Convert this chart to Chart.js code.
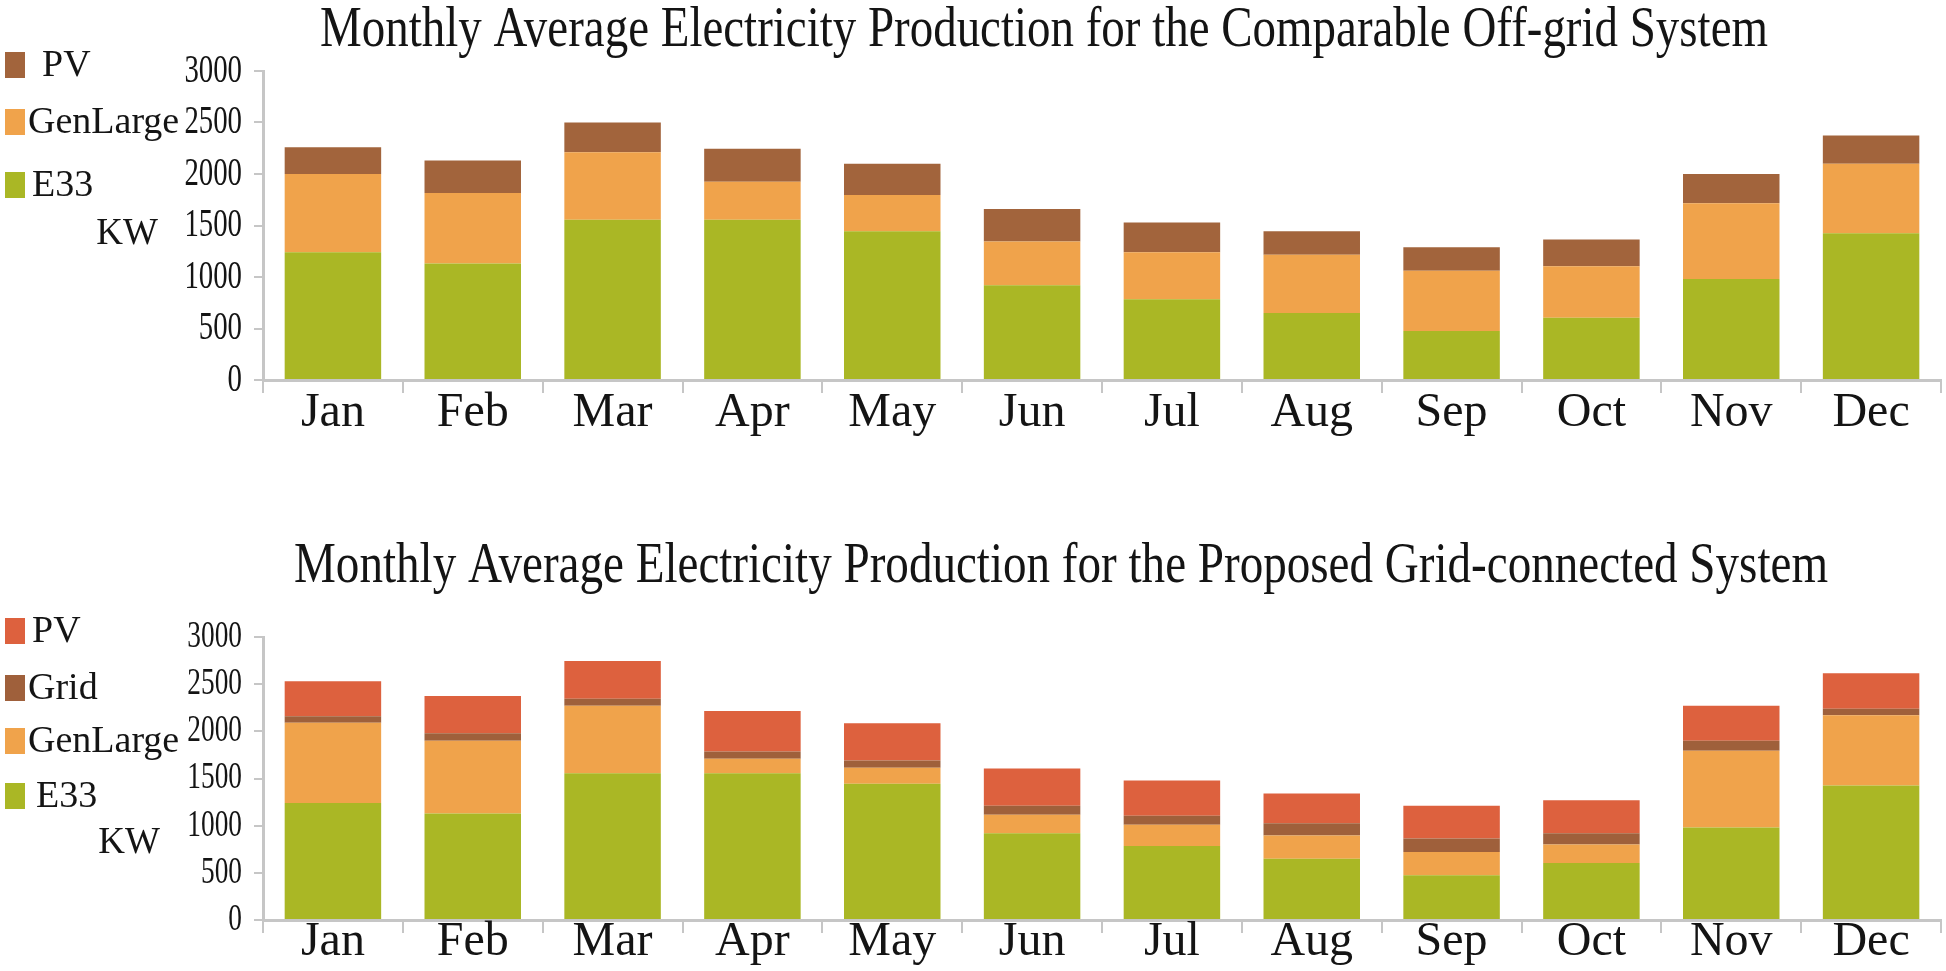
<!DOCTYPE html>
<html>
<head>
<meta charset="utf-8">
<script src="https://cdn.jsdelivr.net/npm/chart.js@4.4.1/dist/chart.umd.min.js"></script>
<style>
  html, body { margin: 0; padding: 0; background: #ffffff; }
  body { width: 1946px; height: 971px; position: relative; overflow: hidden; }
  canvas { position: absolute; left: 0; }
  #c1 { top: 0; width: 1946px; height: 480px; }
  #c2 { top: 480px; width: 1946px; height: 491px; }
</style>
</head>
<body>
<canvas id="c1" width="1946" height="480"></canvas>
<canvas id="c2" width="1946" height="491"></canvas>
<script>
// ---------- data ----------
const months = ['Jan','Feb','Mar','Apr','May','Jun','Jul','Aug','Sep','Oct','Nov','Dec'];
const yTicks = [0, 500, 1000, 1500, 2000, 2500, 3000];

// Comparable off-grid system
const offE33      = [1240, 1130, 1555, 1555, 1445, 920, 785, 650, 475, 605, 980, 1425];
const offGenLarge = [760, 685, 655, 370, 350, 425, 455, 565, 585, 500, 735, 675];
const offPV       = [260, 315, 290, 320, 305, 315, 290, 230, 230, 260, 285, 275];

// Proposed grid-connected system
const gridE33      = [1240, 1130, 1555, 1555, 1445, 920, 785, 650, 475, 605, 980, 1425];
const gridGenLarge = [850, 770, 715, 155, 170, 195, 225, 245, 245, 195, 815, 745];
const gridGrid     = [70, 80, 75, 75, 75, 95, 95, 130, 145, 120, 105, 70];
const gridPV       = [370, 395, 400, 430, 395, 395, 375, 315, 345, 350, 370, 375];

const title1 = 'Monthly Average Electricity Production for the Comparable Off-grid System';
const title2 = 'Monthly Average Electricity Production for the Proposed Grid-connected System';
const yLabel = 'KW';

// ---------- styles ----------
const C_E33 = '#aab725';
const C_GEN = '#f0a34b';
const C_PVBROWN = '#a2643c';
const C_PVRED = '#dd613e';
const C_GRID = '#9f603b';
const AXIS = '#c6c6c6';
const INK = '#141414';
const SERIF = '"Liberation Serif", "Times New Roman", serif';

const decorPlugin = {
  id: 'decor',
  afterDraw(chart, args, opts) {
    const ctx = chart.ctx;
    ctx.save();
    // title (condensed serif)
    ctx.fillStyle = INK;
    ctx.font = opts.titleSize + 'px ' + SERIF;
    ctx.textAlign = 'center';
    ctx.textBaseline = 'alphabetic';
    const w = ctx.measureText(opts.title).width;
    const sx = opts.titleWidth / w;
    ctx.translate(opts.titleX, opts.titleY);
    ctx.scale(sx, 1);
    ctx.fillText(opts.title, 0, 0);
    ctx.restore();

    ctx.save();
    // y label
    ctx.fillStyle = INK;
    ctx.font = opts.labelSize + 'px ' + SERIF;
    ctx.textAlign = 'right';
    ctx.textBaseline = 'middle';
    ctx.fillText(opts.yLabel, opts.yLabelX, opts.yLabelY);

    // legend (top to bottom = reverse of stacking order)
    const ds = chart.data.datasets.slice().reverse();
    ctx.font = opts.legendSize + 'px ' + SERIF;
    ctx.textAlign = 'left';
    ds.forEach((d, i) => {
      const cy = opts.legendY[i];
      ctx.fillStyle = d.backgroundColor;
      ctx.fillRect(opts.swatchX, cy - opts.swatchH / 2, opts.swatchW, opts.swatchH);
      ctx.fillStyle = INK;
      ctx.fillText(d.label, opts.legendTextX[i], cy + 1);
    });
    ctx.restore();
  }
};

// draw y tick labels horizontally condensed (narrow serif digits as in the original)
function condenseYLabels(s) {
  if (s._condensed) return;
  s._condensed = true;
  const orig = s.drawLabels;
  s.drawLabels = function (area) {
    const ctx = this.ctx;
    const xr = this.right - 9 - 12;
    ctx.save();
    ctx.translate(xr, 0);
    ctx.scale(0.72, 1);
    ctx.translate(-xr, 0);
    orig.call(this, area);
    ctx.restore();
  };
}

function makeChart(id, datasets, cfg) {
  return new Chart(document.getElementById(id), {
    type: 'bar',
    data: { labels: months, datasets: datasets },
    plugins: [decorPlugin],
    options: {
      responsive: false,
      devicePixelRatio: 1,
      animation: false,
      layout: { padding: { left: 0, right: 5, top: cfg.top, bottom: 0 } },
      datasets: { bar: { categoryPercentage: 1.0, barPercentage: 0.69, borderWidth: 0 } },
      plugins: {
        legend: { display: false },
        title: { display: false },
        tooltip: { enabled: false },
        decor: cfg.decor
      },
      scales: {
        x: {
          stacked: true,
          afterFit: (s) => { s.height = cfg.xHeight; },
          border: { display: true, color: AXIS, width: 3 },
          grid: { display: true, offset: true, drawOnChartArea: false, drawTicks: true, tickLength: 13, color: AXIS, lineWidth: 2 },
          ticks: { color: INK, font: { family: SERIF, size: cfg.xFont }, padding: cfg.xPad, maxRotation: 0, autoSkip: false }
        },
        y: {
          stacked: true,
          min: 0, max: 3000,
          afterFit: (s) => { s.width = 263; },
          afterBuildTicks: (s) => { s.ticks = yTicks.map(v => ({ value: v })); },
          afterUpdate: condenseYLabels,
          border: { display: true, color: AXIS, width: 3 },
          grid: { display: true, drawOnChartArea: false, drawTicks: true, tickLength: 9, color: AXIS, lineWidth: 2 },
          ticks: { color: INK, font: { family: SERIF, size: cfg.yFont }, padding: 12, autoSkip: false, callback: (v) => String(v) }
        }
      }
    }
  });
}

makeChart('c1', [
  { label: 'E33', data: offE33, backgroundColor: C_E33 },
  { label: 'GenLarge', data: offGenLarge, backgroundColor: C_GEN },
  { label: 'PV', data: offPV, backgroundColor: C_PVBROWN }
], {
  top: 71, xHeight: 100, xFont: 48, xPad: -8, yFont: 40,
  decor: {
    title: title1, titleSize: 56, titleWidth: 1448, titleX: 1044, titleY: 46,
    yLabel: yLabel, labelSize: 37, yLabelX: 158, yLabelY: 234,
    legendSize: 38,
    swatchX: 5, swatchW: 20, swatchH: 26,
    legendY: [65, 122, 185],
    legendTextX: [42, 28, 32]
  }
});

makeChart('c2', [
  { label: 'E33', data: gridE33, backgroundColor: C_E33 },
  { label: 'GenLarge', data: gridGenLarge, backgroundColor: C_GEN },
  { label: 'Grid', data: gridGrid, backgroundColor: C_GRID },
  { label: 'PV', data: gridPV, backgroundColor: C_PVRED }
], {
  top: 157, xHeight: 51, xFont: 48, xPad: -19, yFont: 38,
  decor: {
    title: title2, titleSize: 56, titleWidth: 1534, titleX: 1061, titleY: 102,
    yLabel: yLabel, labelSize: 37, yLabelX: 160, yLabelY: 363,
    legendSize: 38,
    swatchX: 5, swatchW: 20, swatchH: 26,
    legendY: [151, 208, 261, 316],
    legendTextX: [32, 28, 28, 36]
  }
});
</script>
</body>
</html>
